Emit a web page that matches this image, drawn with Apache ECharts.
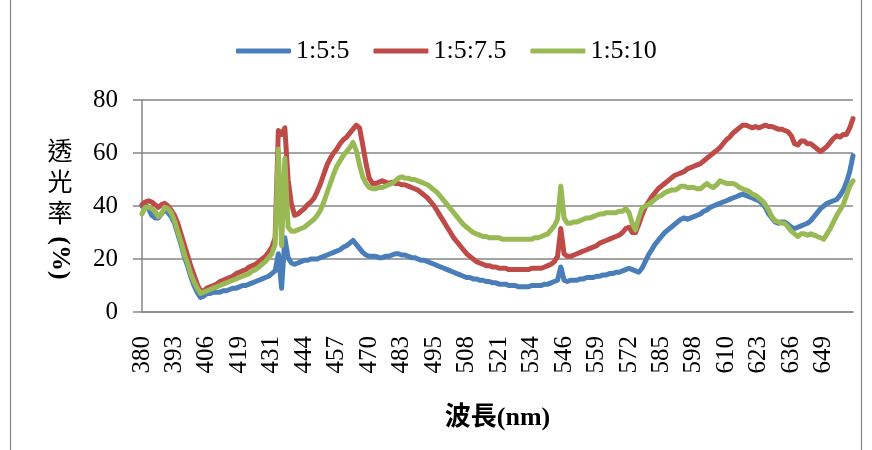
<!DOCTYPE html>
<html>
<head>
<meta charset="utf-8">
<script src="https://cdn.jsdelivr.net/npm/echarts@6/dist/echarts.min.js"></script>
<style>
  html, body { margin: 0; padding: 0; background: #ffffff; }
  #chart { width: 872px; height: 450px; }
</style>
</head>
<body>
<div id="chart"></div>
<script>
// Wavelength tick labels (nm) shown under the category axis
const tickLabels = ['380','393','406','419','431','444','457','470','483','495','508',
                    '521','534','546','559','572','585','598','610','623','636','649'];
// Samples between two labelled wavelengths
const SUB = 10;

const seriesNames = ['1:5:5', '1:5:7.5', '1:5:10'];

// Transmittance (%) of each mixing ratio
const ratio1_5_5 = [
  40, 40.5, 39, 36.5, 35.5, 35.5, 37, 38.5, 37.5, 36,
  33.5, 29.5, 25.5, 21, 17.5, 13.5, 10, 7.5, 5.5, 6,
  7, 7, 7.5, 7.5, 7.5, 8, 8, 8.5, 9, 9,
  9.5, 10, 10, 10.5, 11, 11.5, 12, 12.5, 13, 13.5,
  14.5, 15.5, 22, 9, 28, 20.5, 18.5, 18, 18.5, 19,
  19.5, 19.5, 20, 20, 20, 20.5, 21, 21.5, 22, 22.5,
  23, 23.5, 24.5, 25, 26, 27, 25.5, 24, 22.5, 21.5,
  21, 21, 21, 20.5, 20.5, 21, 21, 21.5, 22, 22,
  21.5, 21.5, 21, 20.5, 20.5, 20, 19.5, 19.5, 19, 18.5,
  18, 17.5, 17, 16.5, 16, 15.5, 15, 14.5, 14, 13.5,
  13, 13, 12.5, 12.5, 12, 12, 11.5, 11.5, 11, 11,
  10.5, 10.5, 10.5, 10, 10, 10, 9.5, 9.5, 9.5, 9.5,
  10, 10, 10, 10, 10.5, 10.5, 11, 11.5, 12, 17,
  12, 11.5, 12, 12, 12, 12.5, 12.5, 13, 13, 13,
  13.5, 13.5, 14, 14, 14.5, 14.5, 15, 15, 15.5, 16,
  16.5, 16, 15.5, 15, 16.5, 19, 21.5, 23.5, 25.5, 27,
  28.5, 30, 31, 32, 33, 34, 35, 35.5, 35, 35.5,
  36, 36.5, 37, 38, 38.5, 39.5, 40, 40.5, 41, 41.5,
  42, 42.5, 43, 43.5, 44, 44.5, 44, 43.5, 43, 42.5,
  42, 41, 39.5, 37, 35.5, 34, 33.5, 34, 34, 33,
  32, 31.5, 32, 32.5, 33, 33.5, 34.5, 36, 37.5, 39,
  40, 41, 41.5, 42, 42.5, 44, 46, 49, 53, 59
];
const ratio1_5_7_5 = [
  40.5, 41.5, 42, 41.5, 40.5, 39.5, 40.5, 41, 40, 38.5,
  36.5, 33.5, 29.5, 25.5, 21.5, 17.5, 14, 10.5, 8, 8,
  9, 9.5, 10, 10.5, 11.5, 12, 12.5, 13, 13.5, 14.5,
  15, 15.5, 16, 17, 17.5, 18, 19, 20, 21, 22.5,
  24.5, 28, 68.5, 67, 69.5, 50, 41, 36.5, 37, 38,
  39, 40.5, 41.5, 43, 45.5, 48.5, 52, 55.5, 58, 60,
  61.5, 63.5, 65, 66, 67.5, 69, 70.5, 69.5, 63, 56,
  50.5, 48.5, 48.5, 49, 49.5, 49, 48.5, 49, 48.5, 48.5,
  48, 48, 47.5, 47, 46.5, 46, 45, 44, 43, 41.5,
  40, 38, 36, 34, 32, 30, 28, 26.5, 25, 23.5,
  22, 21, 20, 19, 18.5, 18, 17.5, 17.5, 17, 17,
  16.5, 16.5, 16.5, 16, 16, 16, 16, 16, 16, 16,
  16.5, 16.5, 16.5, 16.5, 17, 17.5, 18, 19, 21, 31.5,
  22, 21, 21, 21.5, 22, 22.5, 23, 23.5, 24, 24.5,
  25, 26, 26.5, 27, 27.5, 28, 28.5, 29, 30, 31.5,
  32, 30, 30, 33, 36.5, 39.5, 41.5, 43.5, 45, 46.5,
  47.5, 48.5, 49.5, 50.5, 51.5, 52, 52.5, 53, 54, 54.5,
  55, 55.5, 56, 57, 58, 59, 60, 61, 62, 63.5,
  65, 66, 67.5, 68.5, 69.5, 70.5, 70.5, 70, 69.5, 70,
  69.5, 70, 70.5, 70, 70, 69.5, 69, 69, 68.5, 68,
  66.5, 63.5, 63, 64.5, 64.5, 63.5, 63.5, 62.5, 61.5, 60.5,
  61.5, 62.5, 64, 65.5, 66.5, 66, 67, 67, 69.5, 73
];
const ratio1_5_10 = [
  37, 39.5, 39.5, 39, 38, 36, 37, 39.5, 39, 37.5,
  34.5, 30.5, 26.5, 22, 18.5, 14.5, 11.5, 9, 7, 7.5,
  8, 8.5, 9, 9.5, 10, 10.5, 11, 11.5, 12, 12.5,
  13, 13.5, 14, 14.5, 15.5, 16, 17, 18, 19, 20.5,
  22, 25.5, 61.5, 25, 58, 32, 30.5, 30.5, 31, 31.5,
  32, 33, 34, 35, 36.5, 38.5, 41.5, 45, 48.5, 52,
  55, 57, 59, 60.5, 62, 64, 61, 55.5, 51, 48.5,
  47, 46.5, 46.5, 47, 47, 47.5, 48, 48.5, 49.5, 50.5,
  51, 50.5, 50.5, 50, 50, 49.5, 49, 48.5, 48, 47,
  46, 45, 43.5, 42, 40.5, 39, 37.5, 36, 34.5, 33,
  32, 31, 30, 29.5, 29, 28.5, 28.5, 28, 28, 28,
  28, 27.5, 27.5, 27.5, 27.5, 27.5, 27.5, 27.5, 27.5, 27.5,
  27.5, 28, 28, 28.5, 29, 29.5, 31, 32.5, 35, 47.5,
  35.5, 33.5, 33.5, 34, 34, 34.5, 35, 35.5, 35.5, 36,
  36.5, 37, 37, 37.5, 37.5, 37.5, 37.5, 38, 38, 39,
  37.5, 33.5, 31, 35.5, 39, 40, 40.5, 41.5, 42.5, 43.5,
  44, 45, 45.5, 46, 46, 46.5, 47.5, 47.5, 47, 47,
  47, 46.5, 46.5, 47.5, 48.5, 47.5, 47, 48, 49.5, 49,
  48.5, 48.5, 48.5, 48, 47, 46.5, 46, 45.5, 44.5, 44,
  43, 42, 40.5, 38.5, 36, 34.5, 34, 33.5, 33.5, 32,
  30.5, 29.5, 28.5, 29.5, 29.5, 29, 29.5, 29, 28.5, 28,
  27.5, 29.5, 31.5, 34, 36.5, 38.5, 40.5, 44, 47.5, 49.5
];

// Category axis: every labelled wavelength followed by intermediate sample wavelengths
const categories = [];
tickLabels.forEach((t, k) => {
  const a = Number(t);
  const b = k + 1 < tickLabels.length ? Number(tickLabels[k + 1]) : a + 12.7;
  for (let j = 0; j < SUB; j++) {
    categories.push(j === 0 ? t : (a + (b - a) * j / SUB).toFixed(1));
  }
});

const colors = ['#4A7EBB', '#BE4B48', '#98B954'];
const seriesData = [ratio1_5_5, ratio1_5_7_5, ratio1_5_10];
const SERIF = '"Liberation Serif", "DejaVu Serif", serif';
const CJK = '"Noto Sans CJK TC", "Noto Sans CJK SC", sans-serif';
const AXIS_GREY = '#868686';

const chart = echarts.init(document.getElementById('chart'), null, { renderer: 'canvas' });

chart.setOption({
  animation: false,
  backgroundColor: '#ffffff',
  color: colors,
  legend: {
    left: 231,
    top: 33,
    itemWidth: 55,
    itemHeight: 5,
    itemGap: 24,
    icon: 'roundRect',
    textStyle: { fontFamily: SERIF, fontSize: 26, color: '#000', padding: [0, 0, 0, 0] },
    data: seriesNames
  },
  grid: { left: 142, right: 19, top: 100, bottom: 138, containLabel: false },
  xAxis: {
    type: 'category',
    data: categories,
    boundaryGap: false,
    name: '波長(nm)',
    nameLocation: 'middle',
    nameGap: 93,
    nameTextStyle: { fontFamily: SERIF + ', ' + CJK, fontSize: 26, fontWeight: 'bold', color: '#000' },
    axisLine: { lineStyle: { color: AXIS_GREY, width: 1.5 } },
    axisTick: { show: false },
    axisLabel: {
      interval: SUB - 1,
      rotate: 90,
      margin: 24,
      fontFamily: SERIF,
      fontSize: 25,
      color: '#000'
    },
    splitLine: { show: false }
  },
  yAxis: {
    type: 'value',
    min: 0,
    max: 80,
    interval: 20,
    axisLine: { show: true, lineStyle: { color: AXIS_GREY, width: 1.5 } },
    axisTick: { show: true, length: 9, lineStyle: { color: AXIS_GREY, width: 1.5 } },
    axisLabel: { margin: 24, fontFamily: SERIF, fontSize: 25, color: '#000' },
    splitLine: { lineStyle: { color: AXIS_GREY, width: 1.5 } }
  },
  series: seriesNames.map((name, k) => ({
    name: name,
    type: 'line',
    data: seriesData[k],
    symbol: 'none',
    smooth: false,
    lineStyle: { width: 5, color: colors[k], cap: 'round', join: 'round' },
    itemStyle: { color: colors[k] }
  })),
  graphic: [
    // chart frame
    { type: 'line', shape: { x1: 10.5, y1: 0, x2: 10.5, y2: 450 }, style: { stroke: AXIS_GREY, lineWidth: 1.2 } },
    { type: 'line', shape: { x1: 861.5, y1: 0, x2: 861.5, y2: 450 }, style: { stroke: AXIS_GREY, lineWidth: 1.2 } },
    // vertical y-axis title: CJK upright, bracketed unit turned
    { type: 'text', x: 60, y: 150, style: { text: '透', font: '25px ' + CJK, fill: '#000', align: 'center', verticalAlign: 'middle' } },
    { type: 'text', x: 60, y: 181, style: { text: '光', font: '25px ' + CJK, fill: '#000', align: 'center', verticalAlign: 'middle' } },
    { type: 'text', x: 60, y: 212, style: { text: '率', font: '25px ' + CJK, fill: '#000', align: 'center', verticalAlign: 'middle' } },
    { type: 'text', x: 60, y: 258, rotation: -Math.PI / 2,
      style: { text: '(%)', font: 'bold 26px ' + SERIF, fill: '#000', align: 'center', verticalAlign: 'middle' } }
  ]
});
</script>
</body>
</html>
